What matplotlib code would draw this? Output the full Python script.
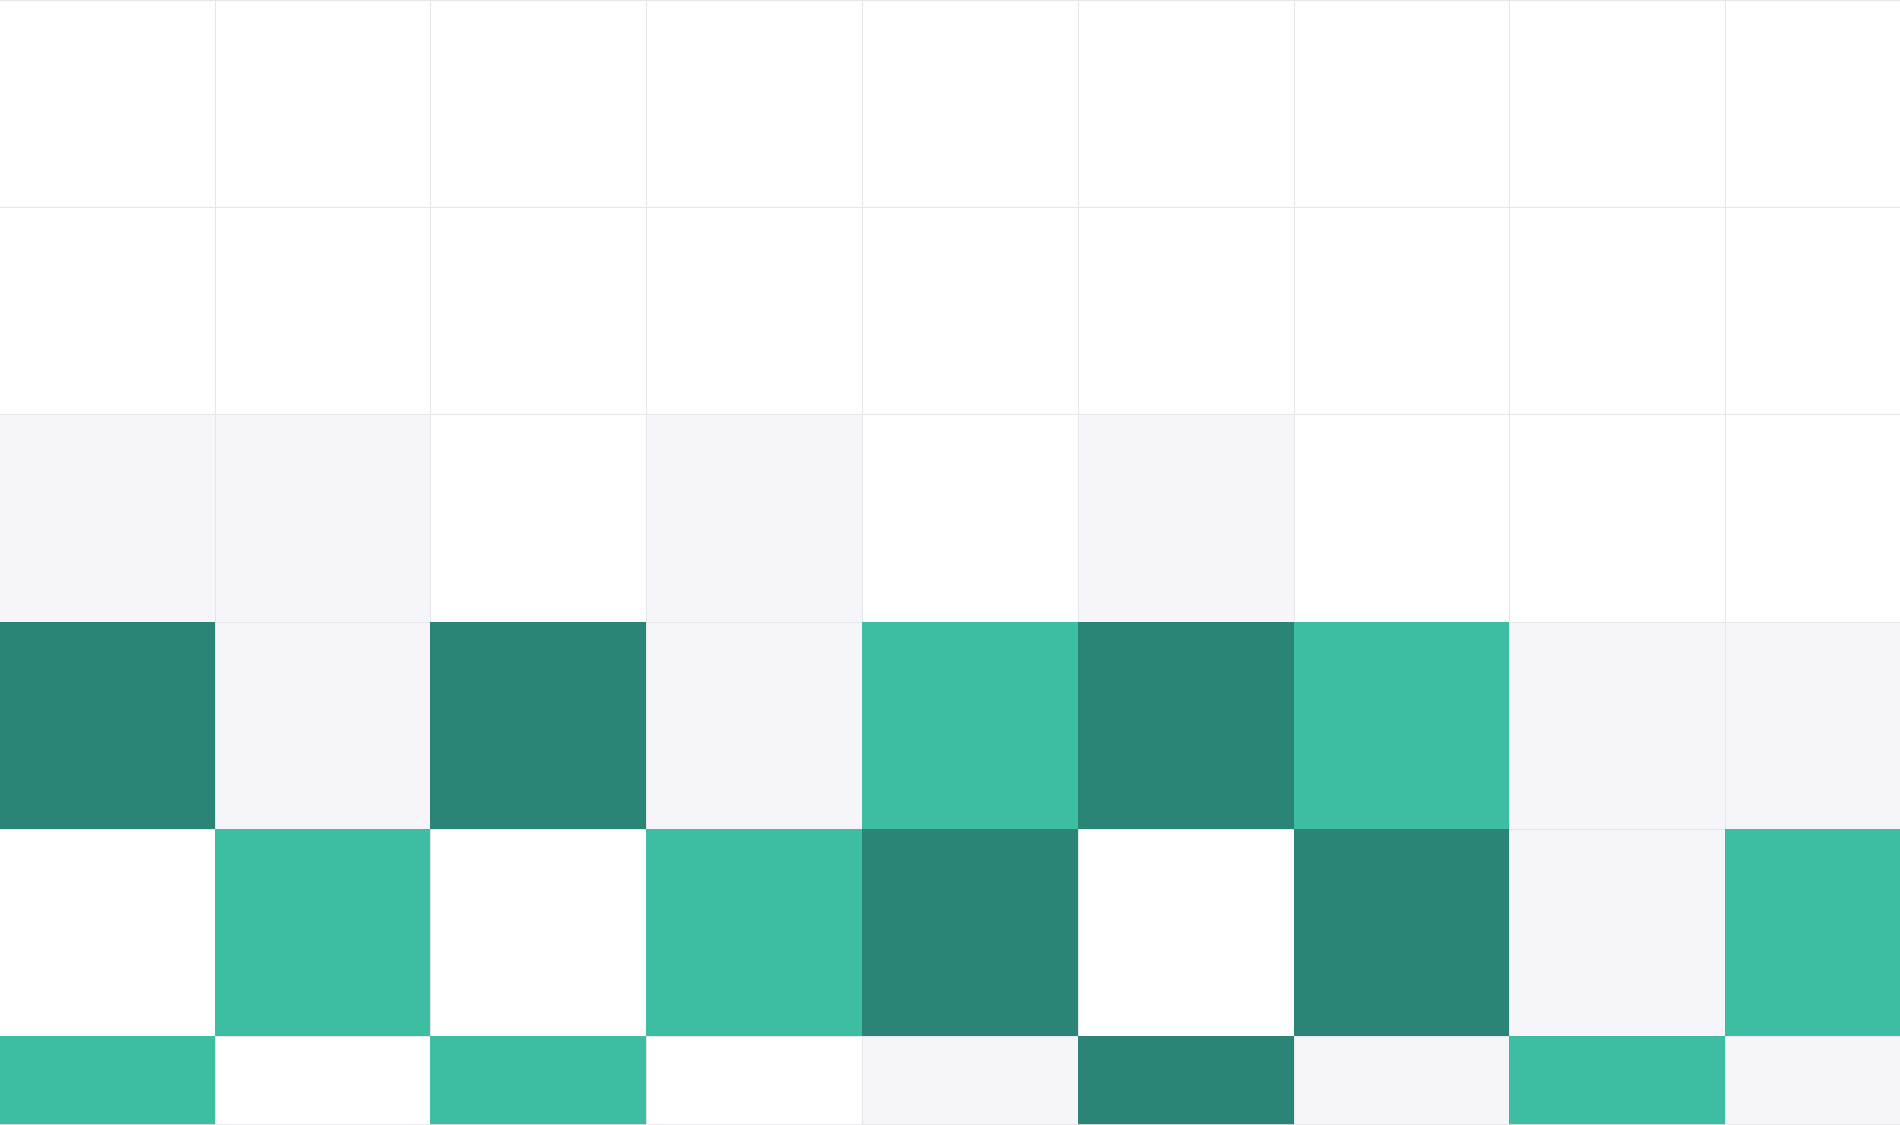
import numpy as np
import matplotlib
matplotlib.use("Agg")
import matplotlib.pyplot as plt
from matplotlib.colors import ListedColormap, BoundaryNorm

# Data: category level per cell (0 = empty, 1 = low, 2 = medium, 3 = high)
columns = ["C1", "C2", "C3", "C4", "C5", "C6", "C7", "C8", "C9"]
rows = ["R1", "R2", "R3", "R4", "R5", "R6"]
row_r1 = [0, 0, 0, 0, 0, 0, 0, 0, 0]
row_r2 = [0, 0, 0, 0, 0, 0, 0, 0, 0]
row_r3 = [1, 1, 0, 1, 0, 1, 0, 0, 0]
row_r4 = [3, 1, 3, 1, 2, 3, 2, 1, 1]
row_r5 = [0, 2, 0, 2, 3, 0, 3, 1, 2]
row_r6 = [2, 0, 2, 0, 1, 3, 1, 2, 1]

values = np.array([row_r1, row_r2, row_r3, row_r4, row_r5, row_r6], dtype=float)

palette = ["#FFFFFF", "#F5F5FA", "#3DBDA2", "#2A8577"]
grid_color = "#E6E6EA"
cmap = ListedColormap(palette)
norm = BoundaryNorm([-0.5, 0.5, 1.5, 2.5, 3.5], cmap.N)

W, H, DPI = 1900, 1125, 100
fig = plt.figure(figsize=(W / DPI, H / DPI), dpi=DPI)
ax = fig.add_axes([0, 0, 1, 1])

xe = np.arange(len(columns) + 1)
ye = np.arange(len(rows) + 1)

# light cells with grid edges
light = np.ma.masked_where(values >= 2, values)
ax.pcolormesh(xe, ye, light, cmap=cmap, norm=norm, edgecolors=grid_color,
              linewidth=0.6)
# coloured cells on top, no edges
strong = np.ma.masked_where(values < 2, values)
ax.pcolormesh(xe, ye, strong, cmap=cmap, norm=norm, edgecolors="none",
              linewidth=0)

cell_w = 215.8
cell_h = 207.0
x0 = 0.006
ax.set_xlim(x0, x0 + W / cell_w)
ax.set_ylim((H - 1) / cell_h, 0)
ax.set_xticks([])
ax.set_yticks([])
for side in ["left", "right"]:
    ax.spines[side].set_visible(False)
for side in ["top", "bottom"]:
    ax.spines[side].set_color(grid_color)
    ax.spines[side].set_linewidth(1.2)

fig.savefig("out.png", dpi=DPI, facecolor="white")
